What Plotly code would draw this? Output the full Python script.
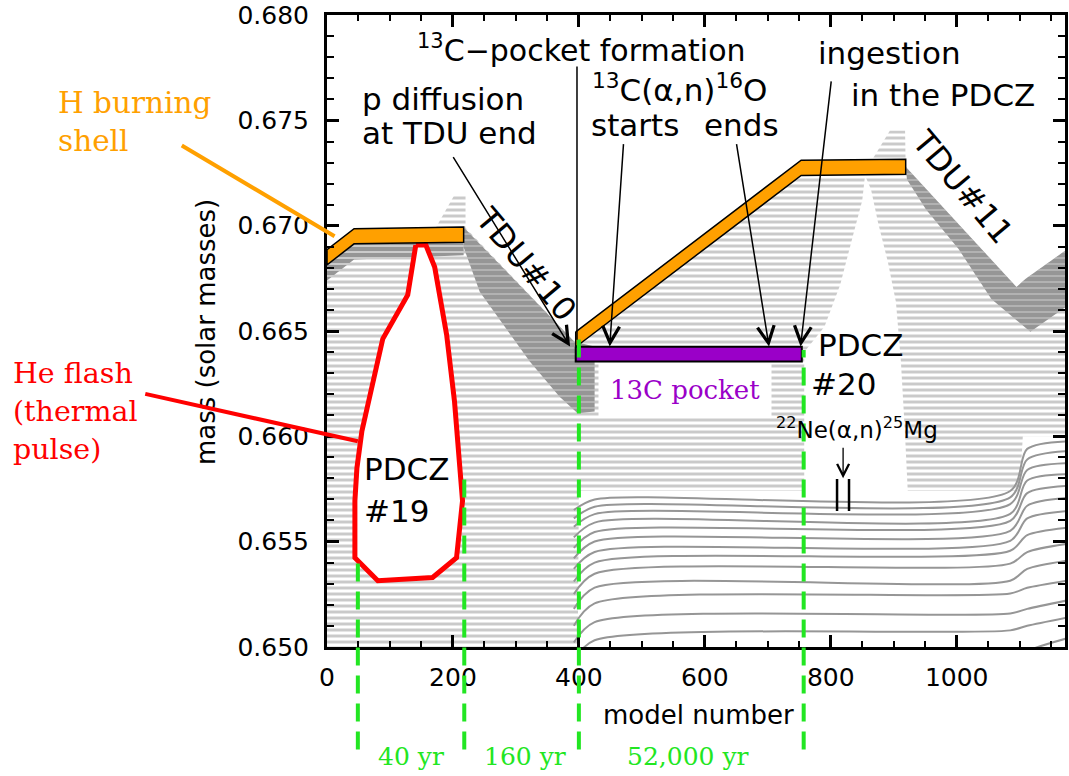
import plotly.graph_objects as go

SANS = "DejaVu Sans"
SERIF = "DejaVu Serif"

X_RANGE = [0, 1172]
Y_RANGE = [0.64999, 0.68001]

GRAY = "#969696"
ORANGE = "#ffa000"
RED = "#ff0000"
PURPLE = "#9a00c8"
GREEN = "#22e622"

# ---------------- data ----------------
# H-burning shell centre lines (model number, mass)
shell1_model = [0, 43, 217]
shell1_mass = [0.6685, 0.6695, 0.66958]
shell2_model = [395, 753, 919]
shell2_mass = [0.6646, 0.67275, 0.6728]
SHELL_HALF = 0.00036

# 13C pocket extent
pocket_model = [395, 754]
pocket_mass = 0.6639
POCKET_HALF = 0.00035

# outline of the pulse-driven convective zone #19 (He flash)
pdcz19_model = [141, 157, 171, 190, 202.5, 213.6, 215.2, 205.7, 167.7, 80.7,
                44.3, 44.3, 47.5, 55.4, 71.2, 88.6, 128.2, 141]
pdcz19_mass = [0.66908, 0.66908, 0.66804, 0.66482, 0.66165, 0.65773, 0.65693,
               0.65423, 0.65329, 0.65314, 0.65423, 0.65693, 0.65849, 0.66024,
               0.66246, 0.66463, 0.66671, 0.66908]

# zoned region below the convective envelope
zone_model = [0, 0, 43, 168, 203, 220, 220, 393, 395, 753, 859, 894, 918, 919,
              1095, 1109, 1180, 1180, 1105, 1100, 400, 398, 0]
zone_mass = [0.649, 0.6685, 0.6695, 0.66965, 0.67149, 0.67149, 0.6699, 0.66449,
             0.6646, 0.67275, 0.6728, 0.67452, 0.67452, 0.6728, 0.66709, 0.66747,
             0.66898, 0.6600, 0.6600, 0.6574, 0.6574, 0.649, 0.649]

# dense layers right below the first shell
dense0_model = [0, 43, 217, 217, 43, 0]
dense0_mass = [0.66814, 0.66914, 0.66922, 0.6686, 0.6684, 0.6674]

# third dredge-up #10 band
tdu10_model = [217, 393, 425, 425, 398, 369, 322, 242.5, 217]
tdu10_mass = [0.66993, 0.66449, 0.66426, 0.66118, 0.66109, 0.66189, 0.66355,
              0.66686, 0.66898]

# third dredge-up #11 band
tdu11_model = [919, 1095, 1109, 1180, 1180, 1117, 1055, 1003, 951, 921]
tdu11_mass = [0.6728, 0.66709, 0.66747, 0.66898, 0.66629, 0.66496, 0.66652,
              0.66889, 0.67078, 0.67220]

# radiative gap inside PDCZ #20
pdcz20_model = [854.4, 863.9, 875, 890.8, 903.5, 911.4, 917.7, 922.5, 757.9,
                757.9, 790, 815, 835, 850, 854.4]
pdcz20_mass = [0.67239, 0.67173, 0.67017, 0.66827, 0.66638, 0.66355, 0.66024,
               0.65726, 0.65726, 0.6640, 0.6652, 0.6672, 0.6695, 0.6712, 0.67239]

# mesh layers in the intershell (mass at each anchor model)
mesh_anchor = [392, 425, 1085, 1112, 1175]
mesh_m392 = [0.6480, 0.6494, 0.6502, 0.6510, 0.6518, 0.6525, 0.6531, 0.6537,
             0.6542, 0.6547, 0.6552, 0.6557, 0.6561, 0.6565]
mesh_m425 = [0.6490, 0.65031, 0.65117, 0.65206, 0.65281, 0.65347, 0.65400,
             0.65450, 0.65500, 0.65545, 0.65590, 0.65630, 0.65665, 0.65700]
mesh_m1085 = [0.6493, 0.65078, 0.65158, 0.65253, 0.65314, 0.65395, 0.65456,
              0.65503, 0.65551, 0.65598, 0.65631, 0.65678, 0.65710, 0.65740]
mesh_m1112 = [0.6498, 0.6510, 0.6518, 0.6528, 0.6537, 0.6545, 0.6553, 0.6561,
              0.6567, 0.6573, 0.6579, 0.6584, 0.6589, 0.6594]
mesh_m1175 = [0.6504, 0.65139, 0.65220, 0.65314, 0.65409, 0.65489, 0.65565,
              0.65645, 0.65707, 0.65764, 0.65820, 0.65872, 0.65929, 0.65976]

# interval boundaries (model number, upper end of the marker in mass)
interval_model = [49, 218, 400, 757]
interval_top = [0.6541, 0.6581, 0.6646, 0.6641]
interval_labels = ["40 yr", "160 yr", "52,000 yr"]
interval_label_model = [134, 315, 574]

fig = go.Figure()


def to_paper(model, mass):
    px = (model - X_RANGE[0]) / (X_RANGE[1] - X_RANGE[0])
    py = (mass - Y_RANGE[0]) / (Y_RANGE[1] - Y_RANGE[0])
    return px, py


def polygon(xs, ys, **kw):
    fig.add_trace(go.Scatter(x=list(xs), y=list(ys), mode="lines", fill="toself",
                             hoverinfo="skip", showlegend=False, **kw))


def band(models, masses, half):
    up = [m + half for m in masses]
    lo = [m - half for m in masses]
    xs = list(models) + list(models)[::-1] + [models[0]]
    ys = up + lo[::-1] + [up[0]]
    return xs, ys


stripes = dict(shape="-", size=6, solidity=0.5, fgcolor=GRAY, bgcolor="white")
dense = dict(shape="-", size=6, solidity=0.18, fgcolor="white", bgcolor=GRAY)
medium = dict(shape="-", size=6, solidity=0.33, fgcolor="white", bgcolor=GRAY)

# striped zones
polygon(zone_model, zone_mass, line=dict(width=0), fillcolor="white",
        fillpattern=stripes)
polygon(dense0_model + [dense0_model[0]], dense0_mass + [dense0_mass[0]],
        line=dict(width=0), fillcolor=GRAY, fillpattern=medium)
for xs, ys in [(tdu10_model, tdu10_mass), (tdu11_model, tdu11_mass)]:
    polygon(xs + [xs[0]], ys + [ys[0]], line=dict(width=0), fillcolor=GRAY,
            fillpattern=dense)
polygon(pdcz20_model, pdcz20_mass, line=dict(width=0), fillcolor="white")

# mesh layers
for i in range(len(mesh_m425)):
    fig.add_trace(go.Scatter(
        x=mesh_anchor,
        y=[mesh_m392[i], mesh_m425[i], mesh_m1085[i], mesh_m1112[i], mesh_m1175[i]],
        mode="lines", line=dict(color=GRAY, width=2, shape="spline", smoothing=0.8),
        hoverinfo="skip", showlegend=False))

# He flash convective zone
polygon(pdcz19_model, pdcz19_mass, line=dict(color=RED, width=5), fillcolor="white")

# H burning shell
for sm, ss in [(shell1_model, shell1_mass), (shell2_model, shell2_mass)]:
    xs, ys = band(sm, ss, SHELL_HALF)
    polygon(xs, ys, line=dict(color="black", width=1.5), fillcolor=ORANGE)

# 13C pocket
xs, ys = band(pocket_model, [pocket_mass, pocket_mass], POCKET_HALF)
polygon(xs, ys, line=dict(color="black", width=2), fillcolor=PURPLE)

# ---------------- shapes ----------------
shapes = []
BOTTOM_PAPER = -0.162
for m, top in zip(interval_model, interval_top):
    shapes.append(dict(type="line", xref="x", yref="paper", x0=m, x1=m,
                       y0=BOTTOM_PAPER, y1=to_paper(m, top)[1],
                       line=dict(color=GREEN, width=4, dash="18px,10px")))
for m in [810, 829]:
    shapes.append(dict(type="line", xref="x", yref="y", x0=m, x1=m,
                       y0=0.65645, y1=0.65797, line=dict(color="black", width=2.5)))

# ---------------- annotations ----------------
ann = []


def text(t, x, y, size=31, color="black", family=SANS, angle=0, xanchor="center", **kw):
    # placed in paper coordinates so labels outside the axes stay visible
    px, py = to_paper(x, y)
    ann.append(dict(text=t, x=px, y=py, xref="paper", yref="paper", showarrow=False,
                    font=dict(family=family, size=size, color=color),
                    textangle=angle, xanchor=xanchor, yanchor="middle", **kw))


def arrow(x0, y0, x1, y1, head=5, color="black", width=1.5, size=2.2):
    ann.append(dict(text="", x=x1, y=y1, ax=x0, ay=y0, xref="x", yref="y",
                    axref="x", ayref="y", showarrow=True, arrowhead=head,
                    arrowsize=size, arrowwidth=width, arrowcolor=color, standoff=0))


text("<sup>13</sup>C\u2212pocket formation", 404, 0.67844, size=30)
text("p diffusion", 52, 0.67603, xanchor="left")
text("at TDU end", 52, 0.67442, xanchor="left")
text("<sup>13</sup>C(\u03b1,n)<sup>16</sup>O", 560, 0.67655)
text("starts", 489, 0.67480)
text("ends", 658, 0.67480)
text("ingestion", 894, 0.67820)
text("in the PDCZ", 978, 0.67622)
text("TDU#10", 316, 0.66818, size=32, angle=50)
text("TDU#11", 1009, 0.67182, size=32, angle=50)
text("PDCZ", 848, 0.66435, size=31)
text("#20", 820, 0.66246, size=31)
text("PDCZ", 127, 0.65844, size=31)
text("#19", 111, 0.65645, size=31)
text("<sup>22</sup>Ne(\u03b1,n)<sup>25</sup>Mg", 842, 0.66038, size=23)
text("13C pocket", 568, 0.66222, size=26, color=PURPLE, family=SERIF,
     bgcolor="white", borderpad=11)

text("H burning", -430, 0.67584, size=29.5, color=ORANGE, family=SERIF, xanchor="left")
text("shell", -430, 0.67404, size=29.5, color=ORANGE, family=SERIF, xanchor="left")
text("He flash", -502, 0.66298, size=28.5, color=RED, family=SERIF, xanchor="left")
text("(thermal", -502, 0.66118, size=28.5, color=RED, family=SERIF, xanchor="left")
text("pulse)", -502, 0.65939, size=28.5, color=RED, family=SERIF, xanchor="left")

text("mass (solar masses)", -193, 0.66497, size=26, angle=-90)

arrow(199, 0.67333, 386, 0.66426)
arrow(397, 0.67764, 397, 0.66459, head=0)
arrow(471, 0.67395, 449, 0.66426)
arrow(650, 0.67395, 702, 0.66426)
arrow(801, 0.67693, 752, 0.66426)
arrow(819.6, 0.65953, 819.6, 0.65800, width=1.3, size=1.8)
arrow(-233, 0.67385, 12, 0.66950, head=0, color=ORANGE, width=4)
arrow(-291, 0.66203, 49, 0.65976, head=0, color=RED, width=4)

for lab, m in zip(interval_labels, interval_label_model):
    ann.append(dict(text=lab, x=to_paper(m, 0.65)[0], y=-0.173, xref="paper",
                    yref="paper", showarrow=False, xanchor="center", yanchor="middle",
                    font=dict(family=SERIF, size=25, color=GREEN)))
ann.append(dict(text="model number", x=to_paper(590, 0.65)[0], y=-0.107,
                xref="paper", yref="paper", showarrow=False, xanchor="center",
                yanchor="middle", font=dict(family=SANS, size=26, color="black")))

axis_common = dict(showgrid=False, zeroline=False, showline=True, linecolor="black",
                   linewidth=3, mirror="allticks", ticks="inside", ticklen=12,
                   tickwidth=2.5, tickcolor="black", ticklabeloverflow="allow",
                   tickfont=dict(family=SANS, size=25, color="black"))

fig.update_layout(
    width=1069, height=776,
    margin=dict(l=327, r=1, t=12, b=129),
    paper_bgcolor="white", plot_bgcolor="white",
    hovermode=False, showlegend=False,
    shapes=shapes, annotations=ann,
    xaxis=dict(range=X_RANGE, tick0=0, dtick=200, ticklabelstandoff=6,
               minor=dict(dtick=50, ticklen=6, tickwidth=2, tickcolor="black", ticks="inside"),
               **axis_common),
    yaxis=dict(range=Y_RANGE, tick0=0.650, dtick=0.005, tickformat=".3f",
               ticklabelstandoff=10,
               minor=dict(dtick=0.001, ticklen=7, tickwidth=2, tickcolor="black", ticks="inside"),
               **axis_common),
)

fig.write_html("out.html")
